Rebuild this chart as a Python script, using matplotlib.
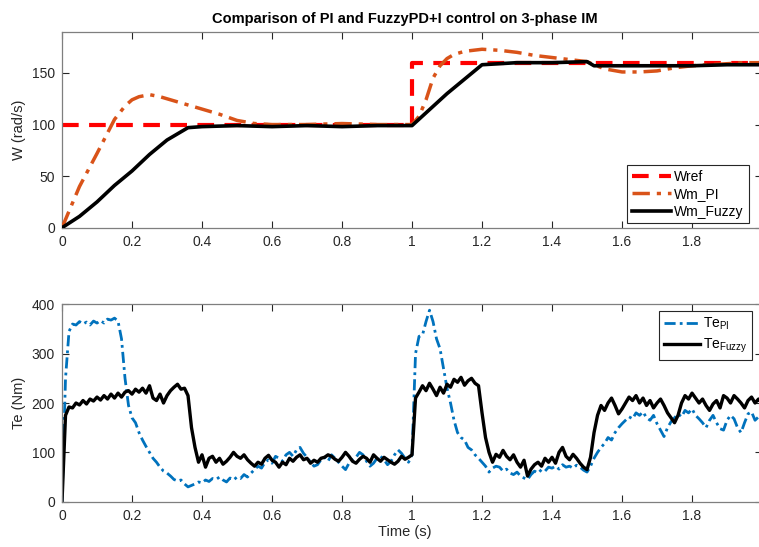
import numpy as np
import matplotlib
matplotlib.use("Agg")
import matplotlib.pyplot as plt

plt.rcParams["font.family"] = ["Liberation Sans", "DejaVu Sans"]
plt.rcParams["mathtext.default"] = "regular"

# speed response (rad/s)
t_ref = [0, 1.0, 1.0, 2.0]
w_ref = [100, 100, 160, 160]

t_pi = [0, 0.05, 0.1, 0.15, 0.18, 0.2, 0.22, 0.25, 0.28, 0.32, 0.36, 0.4, 0.45,
        0.5, 0.55, 0.6, 0.7, 0.8, 0.9, 1.0, 1.02, 1.04, 1.06, 1.08, 1.1, 1.12,
        1.15, 1.2, 1.25, 1.3, 1.35, 1.4, 1.45, 1.5, 1.52, 1.55, 1.6, 1.65, 1.7,
        1.75, 1.8, 1.85, 1.9, 1.95, 2.0]
w_pi = [0, 40, 72, 105, 118, 124, 127, 129, 127, 123, 119, 115, 110,
        104, 101, 100, 100, 101, 100, 100, 108, 124, 145, 157, 164, 168,
        171, 173, 172, 170, 167, 165, 163, 161, 158, 154, 151, 151, 152,
        155, 157, 158, 159, 160, 160]

t_fz = [0, 0.05, 0.1, 0.15, 0.2, 0.25, 0.3, 0.36, 0.4, 0.5, 0.6, 0.7, 0.8,
        0.9, 1.0, 1.1, 1.2, 1.25, 1.3, 1.4, 1.5, 1.52, 1.6, 1.7, 1.8, 1.9, 2.0]
w_fz = [0, 11, 25, 41, 55, 71, 85, 97, 98, 99, 98, 99, 98,
        99, 99, 130, 158, 159, 160, 160, 161, 157, 157, 157, 157, 158, 158]

# electromagnetic torque (Nm), sampled every 10 ms
t_te = np.round(np.arange(0, 2.001, 0.01), 2)
te_pi = [
    0, 250, 345, 360, 358, 365, 360, 364, 358, 366,
    362, 367, 362, 370, 368, 372, 366, 330, 250, 195,
    170, 160, 140, 125, 112, 100, 88, 80, 70, 62,
    58, 52, 45, 42, 44, 36, 30, 33, 36, 40,
    38, 44, 41, 47, 45, 50, 44, 40, 48, 44,
    50, 47, 55, 50, 58, 65, 72, 68, 80, 85,
    78, 92, 88, 82, 95, 100, 92, 105, 110, 98,
    90, 80, 72, 75, 85, 90, 82, 95, 88, 80,
    72, 65, 78, 85, 90, 100, 95, 82, 72, 78,
    88, 92, 85, 75, 82, 95, 105, 98, 88, 80,
    95, 300, 335, 338, 365, 388, 365, 330, 310, 270,
    230, 200, 165, 140, 130, 125, 110, 105, 95, 88,
    80, 72, 60, 68, 72, 70, 62, 66, 58, 55,
    60, 52, 48, 45, 55, 62, 58, 65, 62, 70,
    68, 72, 66, 75, 70, 72, 68, 74, 70, 64,
    60, 72, 88, 100, 110, 118, 130, 125, 140, 150,
    158, 165, 172, 168, 180, 175, 182, 170, 165, 175,
    158, 145, 132, 150, 162, 170, 178, 172, 185, 180,
    188, 175, 168, 160, 150, 165, 175, 160, 148, 145,
    165, 175, 168, 150, 140, 160, 178, 182, 165, 172,
    175]
te_fz = [
    0, 175, 192, 190, 200, 196, 205, 198, 208, 204,
    212, 206, 215, 208, 218, 210, 220, 212, 222, 225,
    218, 228, 222, 230, 220, 235, 210, 205, 218, 200,
    215, 225, 232, 238, 228, 230, 215, 150, 110, 80,
    95, 70, 88, 92, 80, 88, 76, 82, 90, 100,
    92, 88, 95, 85, 78, 72, 80, 76, 88, 94,
    84, 80, 70, 80, 75, 88, 82, 90, 95, 85,
    88, 78, 84, 80, 88, 90, 95, 92, 86, 82,
    90, 100, 92, 82, 78, 86, 92, 88, 80, 95,
    88, 82, 90, 85, 80, 76, 82, 92, 86, 90,
    95, 210, 222, 235, 225, 240, 228, 215, 232, 220,
    238, 232, 248, 242, 252, 236, 245, 250, 240, 235,
    180, 130, 100, 80, 96, 90, 104, 92, 85, 95,
    80, 70, 84, 52, 66, 75, 80, 72, 88, 80,
    90, 78, 100, 110, 92, 85, 96, 88, 78, 70,
    65, 90, 140, 175, 195, 185, 200, 210, 195, 178,
    188, 200, 212, 205, 215, 200, 210, 195, 205, 190,
    200, 208, 195, 180, 170, 160, 175, 200, 215, 208,
    220, 210, 200, 208, 195, 185, 198, 205, 190, 215,
    210, 200, 215, 208, 200, 190, 205, 212, 200, 208,
    200]

axCol = "#262626"
xt = [0, 0.2, 0.4, 0.6, 0.8, 1, 1.2, 1.4, 1.6, 1.8, 2]
xtl = ["0", "0.2", "0.4", "0.6", "0.8", "1", "1.2", "1.4", "1.6", "1.8", "2"]

fig = plt.figure(figsize=(7.59, 5.47), dpi=100)
axW = fig.add_axes([0.0817, 0.5837, 0.9223, 0.3583])
axT = fig.add_axes([0.0817, 0.0828, 0.9223, 0.3609])


def style(ax):
    ax.set_xlim(0, 2)
    ax.set_xticks(xt)
    ax.set_xticklabels(xtl)
    ax.tick_params(direction="in", top=True, right=True, length=5,
                   width=0.8, colors=axCol, labelsize=10, pad=5)
    for s in ax.spines.values():
        s.set_color("#7f7f7f")
        s.set_linewidth(0.9)


axW.plot(t_ref, w_ref, color="red", linestyle=(0, (4, 2.5)), linewidth=3,
         label="Wref", zorder=2)
axW.plot(t_pi, w_pi, color="#D95319", linestyle=(0, (5, 2, 1.2, 2)), linewidth=2.5,
         label="Wm_PI", zorder=3)
axW.plot(t_fz, w_fz, color="black", linewidth=2.6, label="Wm_Fuzzy", zorder=4)
style(axW)
axW.set_ylim(0, 190)
axW.set_yticks([0, 50, 100, 150])
axW.set_ylabel("W (rad/s)", fontsize=10.5, color=axCol)
axW.set_title("Comparison of PI and FuzzyPD+I control on 3-phase IM",
              fontsize=10.5, fontweight="bold", color="black", pad=6, x=0.49)
lg = axW.legend(loc="lower right", bbox_to_anchor=(0.981, 0.022), borderaxespad=0,
                fontsize=10, handlelength=2.8, handletextpad=0.25, labelspacing=0.25,
                frameon=True, fancybox=False, framealpha=1, borderpad=0.35)
lg.get_frame().set_edgecolor("#262626")
lg.get_frame().set_linewidth(0.8)

axT.plot(t_te, te_pi, color="#0072BD", linestyle=(0, (4, 1.5, 1, 1.5)),
         linewidth=2, label="Te$_{PI}$")
axT.plot(t_te, te_fz, color="black", linewidth=2.4, label="Te$_{Fuzzy}$")
style(axT)
axT.set_ylim(0, 400)
axT.set_yticks([0, 100, 200, 300, 400])
axT.set_ylabel("Te (Nm)", fontsize=10.5, color=axCol)
axT.set_xlabel("Time (s)", fontsize=10.5, color=axCol, labelpad=2, x=0.49)
lg2 = axT.legend(loc="upper right", bbox_to_anchor=(0.986, 0.966), borderaxespad=0,
                 fontsize=10, handlelength=2.6, handletextpad=0.2, labelspacing=0.35,
                 frameon=True, fancybox=False, framealpha=1, borderpad=0.35)
lg2.get_frame().set_edgecolor("#262626")
lg2.get_frame().set_linewidth(0.8)

fig.savefig("out.png", dpi=100)
